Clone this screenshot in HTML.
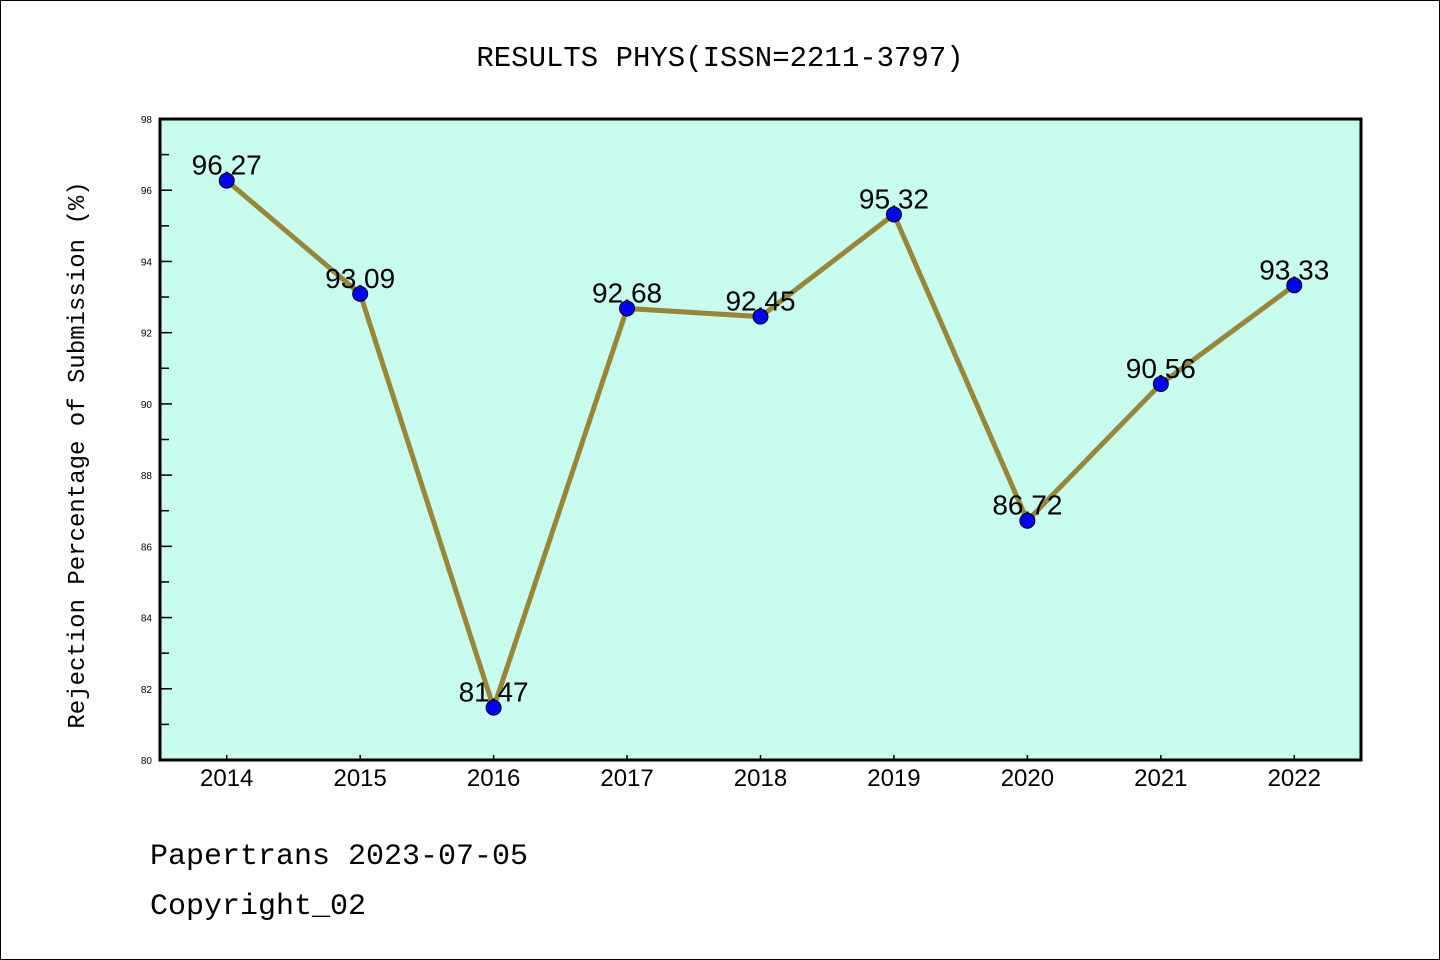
<!DOCTYPE html>
<html><head><meta charset="utf-8"><style>
body{margin:0;background:#fff}
svg{display:block}
</style></head><body>
<svg id="c" width="1440" height="960" xmlns="http://www.w3.org/2000/svg">
<rect x="0.5" y="0.5" width="1439" height="959" fill="#fff" stroke="#000"/>
<text x="720" y="66" text-anchor="middle" font-family="Liberation Mono, WenQuanYi Zen Hei, monospace" font-size="29">RESULTS PHYS(ISSN=2211-3797)</text>
<rect x="160" y="119" width="1201" height="641" fill="#c7fcee"/>
<g id="axes"></g>
<g id="marks"></g>
<rect x="160" y="119" width="1201" height="641" fill="none" stroke="#000" stroke-width="3"/>
<text transform="translate(84,455) rotate(-90)" text-anchor="middle" font-family="Liberation Mono, WenQuanYi Zen Hei, monospace" font-size="24">Rejection Percentage of Submission (%)</text>
<text x="150" y="864" font-family="Liberation Mono, WenQuanYi Zen Hei, monospace" font-size="30">Papertrans 2023-07-05</text>
<text x="150" y="914" font-family="Liberation Mono, WenQuanYi Zen Hei, monospace" font-size="30">Copyright_02</text>
</svg>
<script>
const categories = ["2014","2015","2016","2017","2018","2019","2020","2021","2022"];
const values = [96.27,93.09,81.47,92.68,92.45,95.32,86.72,90.56,93.33];
const yTicks = [80,82,84,86,88,90,92,94,96,98];
const yMin = 80, yMax = 98;
const L=160,T=119,W=1201,H=641;
const NS="http://www.w3.org/2000/svg";
function xs(i){return L+(i+0.5)*W/categories.length;}
function ys(v){return T+H-(v-yMin)/(yMax-yMin)*H;}
function mk(tag,attrs,parent){const e=document.createElementNS(NS,tag);for(const k in attrs)e.setAttribute(k,attrs[k]);parent.appendChild(e);return e;}
const ax=document.getElementById('axes'), mg=document.getElementById('marks');
yTicks.forEach((t,i)=>{
  const y=ys(t);
  const tk=mk('line',{x1:L,x2:L+12,y1:y,y2:y,stroke:'#000','stroke-width':1.5},ax);
  
  
  const lb=mk('text',{x:152,y:y+4,'text-anchor':'end','font-family':'Liberation Sans, sans-serif','font-size':10},ax);
  lb.textContent=t;
  
  
  if(i<yTicks.length-1){
    const ym=ys(t+1);
    const mt=mk('line',{x1:L,x2:L+9,y1:ym,y2:ym,stroke:'#000','stroke-width':1.5},ax);
    
    
  }
});
categories.forEach((c,i)=>{
  const x=xs(i);
  const tk=mk('line',{x1:x,x2:x,y1:T+H,y2:T+H-5,stroke:'#000','stroke-width':1.5},ax);
  
  
  const lb=mk('text',{x:x,y:T+H+26,'text-anchor':'middle','font-family':'Liberation Sans, sans-serif','font-size':24},ax);
  lb.textContent=c;
  
  
});
const pts=values.map((v,i)=>xs(i)+','+ys(v)).join(' ');
const line=mk('polyline',{points:pts,fill:'none',stroke:'#9a8637','stroke-width':5,'stroke-linejoin':'round'},mg);


values.forEach((v,i)=>{
  const x=xs(i),y=ys(v);
  const lb=mk('text',{x:x,y:y-6,'text-anchor':'middle','font-family':'Liberation Sans, sans-serif','font-size':28},mg);
  lb.textContent=v.toFixed(2);
  
  
});
values.forEach((v,i)=>{
  const p=mk('circle',{cx:xs(i),cy:ys(v),r:7.5,fill:'#0000ff',stroke:'#000','stroke-width':1},mg);
  
  
});
</script>
</body></html>
